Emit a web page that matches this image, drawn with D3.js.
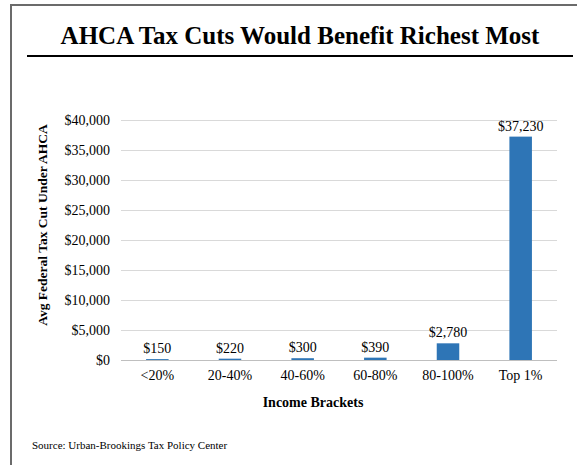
<!DOCTYPE html>
<html>
<head>
<meta charset="utf-8">
<style>
  body { margin: 0; background: #fff; }
  svg text { font-family: "Liberation Serif", "Times New Roman", serif; fill: #000; }
  .grid line { stroke: #d9d9d9; shape-rendering: crispEdges; }
  .grid path { display: none; }
</style>
<script src="https://d3js.org/d3.v7.min.js"></script>
</head>
<body>
<div id="chart"></div>
<script>
  // data
  var brackets = ["<20%", "20-40%", "40-60%", "60-80%", "80-100%", "Top 1%"];
  var taxCut = [150, 220, 300, 390, 2780, 37230];
  var yTicks = [0, 5000, 10000, 15000, 20000, 25000, 30000, 35000, 40000];

  var W = 577, H = 465;
  var svg = d3.select("#chart").append("svg")
    .attr("width", W).attr("height", H);

  // frame (left + top edges only)
  svg.append("path")
    .attr("d", "M11," + H + "V5H" + W)
    .attr("fill", "none")
    .attr("stroke", "#6b6b6b")
    .attr("stroke-width", 2);

  // title + rule under it
  svg.append("text")
    .attr("x", 300).attr("y", 44)
    .attr("text-anchor", "middle")
    .style("font-size", "25px").style("font-weight", "bold")
    .text("AHCA Tax Cuts Would Benefit Richest Most");
  svg.append("line")
    .attr("x1", 27).attr("x2", 573)
    .attr("y1", 56).attr("y2", 56)
    .attr("stroke", "#000").attr("stroke-width", 2);

  var x = d3.scaleBand()
    .domain(brackets)
    .range([121, 557])
    .paddingInner(0.69)
    .paddingOuter(0.345);

  var y = d3.scaleLinear()
    .domain([0, 40000])
    .range([360, 120]);

  // gridlines
  svg.append("g")
    .attr("class", "grid")
    .attr("transform", "translate(121,0)")
    .call(d3.axisLeft(y).tickValues(yTicks).tickSize(-436).tickFormat(""));

  // y labels
  var yAx = svg.append("g")
    .attr("transform", "translate(121,0)")
    .call(d3.axisLeft(y).tickValues(yTicks).tickSize(0).tickPadding(11)
      .tickFormat(function(d) { return "$" + d3.format(",")(d); }));
  yAx.select(".domain").remove();
  yAx.selectAll("text").style("font-size", "14px").attr("dy", "0.35em");

  // bars
  svg.selectAll(".bar")
    .data(taxCut)
    .enter().append("rect")
    .attr("class", "bar")
    .attr("x", function(d, i) { return x(brackets[i]); })
    .attr("width", x.bandwidth())
    .attr("y", function(d) { return y(d); })
    .attr("height", function(d) { return y(0) - y(d); })
    .attr("fill", "#2e75b6");

  // value labels
  svg.selectAll(".val")
    .data(taxCut)
    .enter().append("text")
    .attr("class", "val")
    .attr("x", function(d, i) { return x(brackets[i]) + x.bandwidth() / 2; })
    .attr("y", function(d) { return y(d) - 6; })
    .attr("text-anchor", "middle")
    .style("font-size", "14px")
    .text(function(d) { return "$" + d3.format(",")(d); });

  // x axis
  var xAx = svg.append("g")
    .attr("transform", "translate(0,360)")
    .call(d3.axisBottom(x).tickSize(0).tickPadding(10));
  xAx.select(".domain").attr("stroke", "#bfbfbf").attr("d", "M121,0.5H557");
  xAx.selectAll("text").style("font-size", "14px");

  // axis titles
  svg.append("text")
    .attr("x", 313).attr("y", 407)
    .attr("text-anchor", "middle")
    .style("font-size", "14px").style("font-weight", "bold")
    .text("Income Brackets");

  svg.append("text")
    .attr("transform", "translate(47,225) rotate(-90)")
    .attr("text-anchor", "middle")
    .style("font-size", "13.5px").style("font-weight", "bold")
    .text("Avg Federal Tax Cut Under AHCA");

  svg.append("text")
    .attr("x", 32).attr("y", 449)
    .style("font-size", "11px")
    .text("Source: Urban-Brookings Tax Policy Center");
</script>
</body>
</html>
